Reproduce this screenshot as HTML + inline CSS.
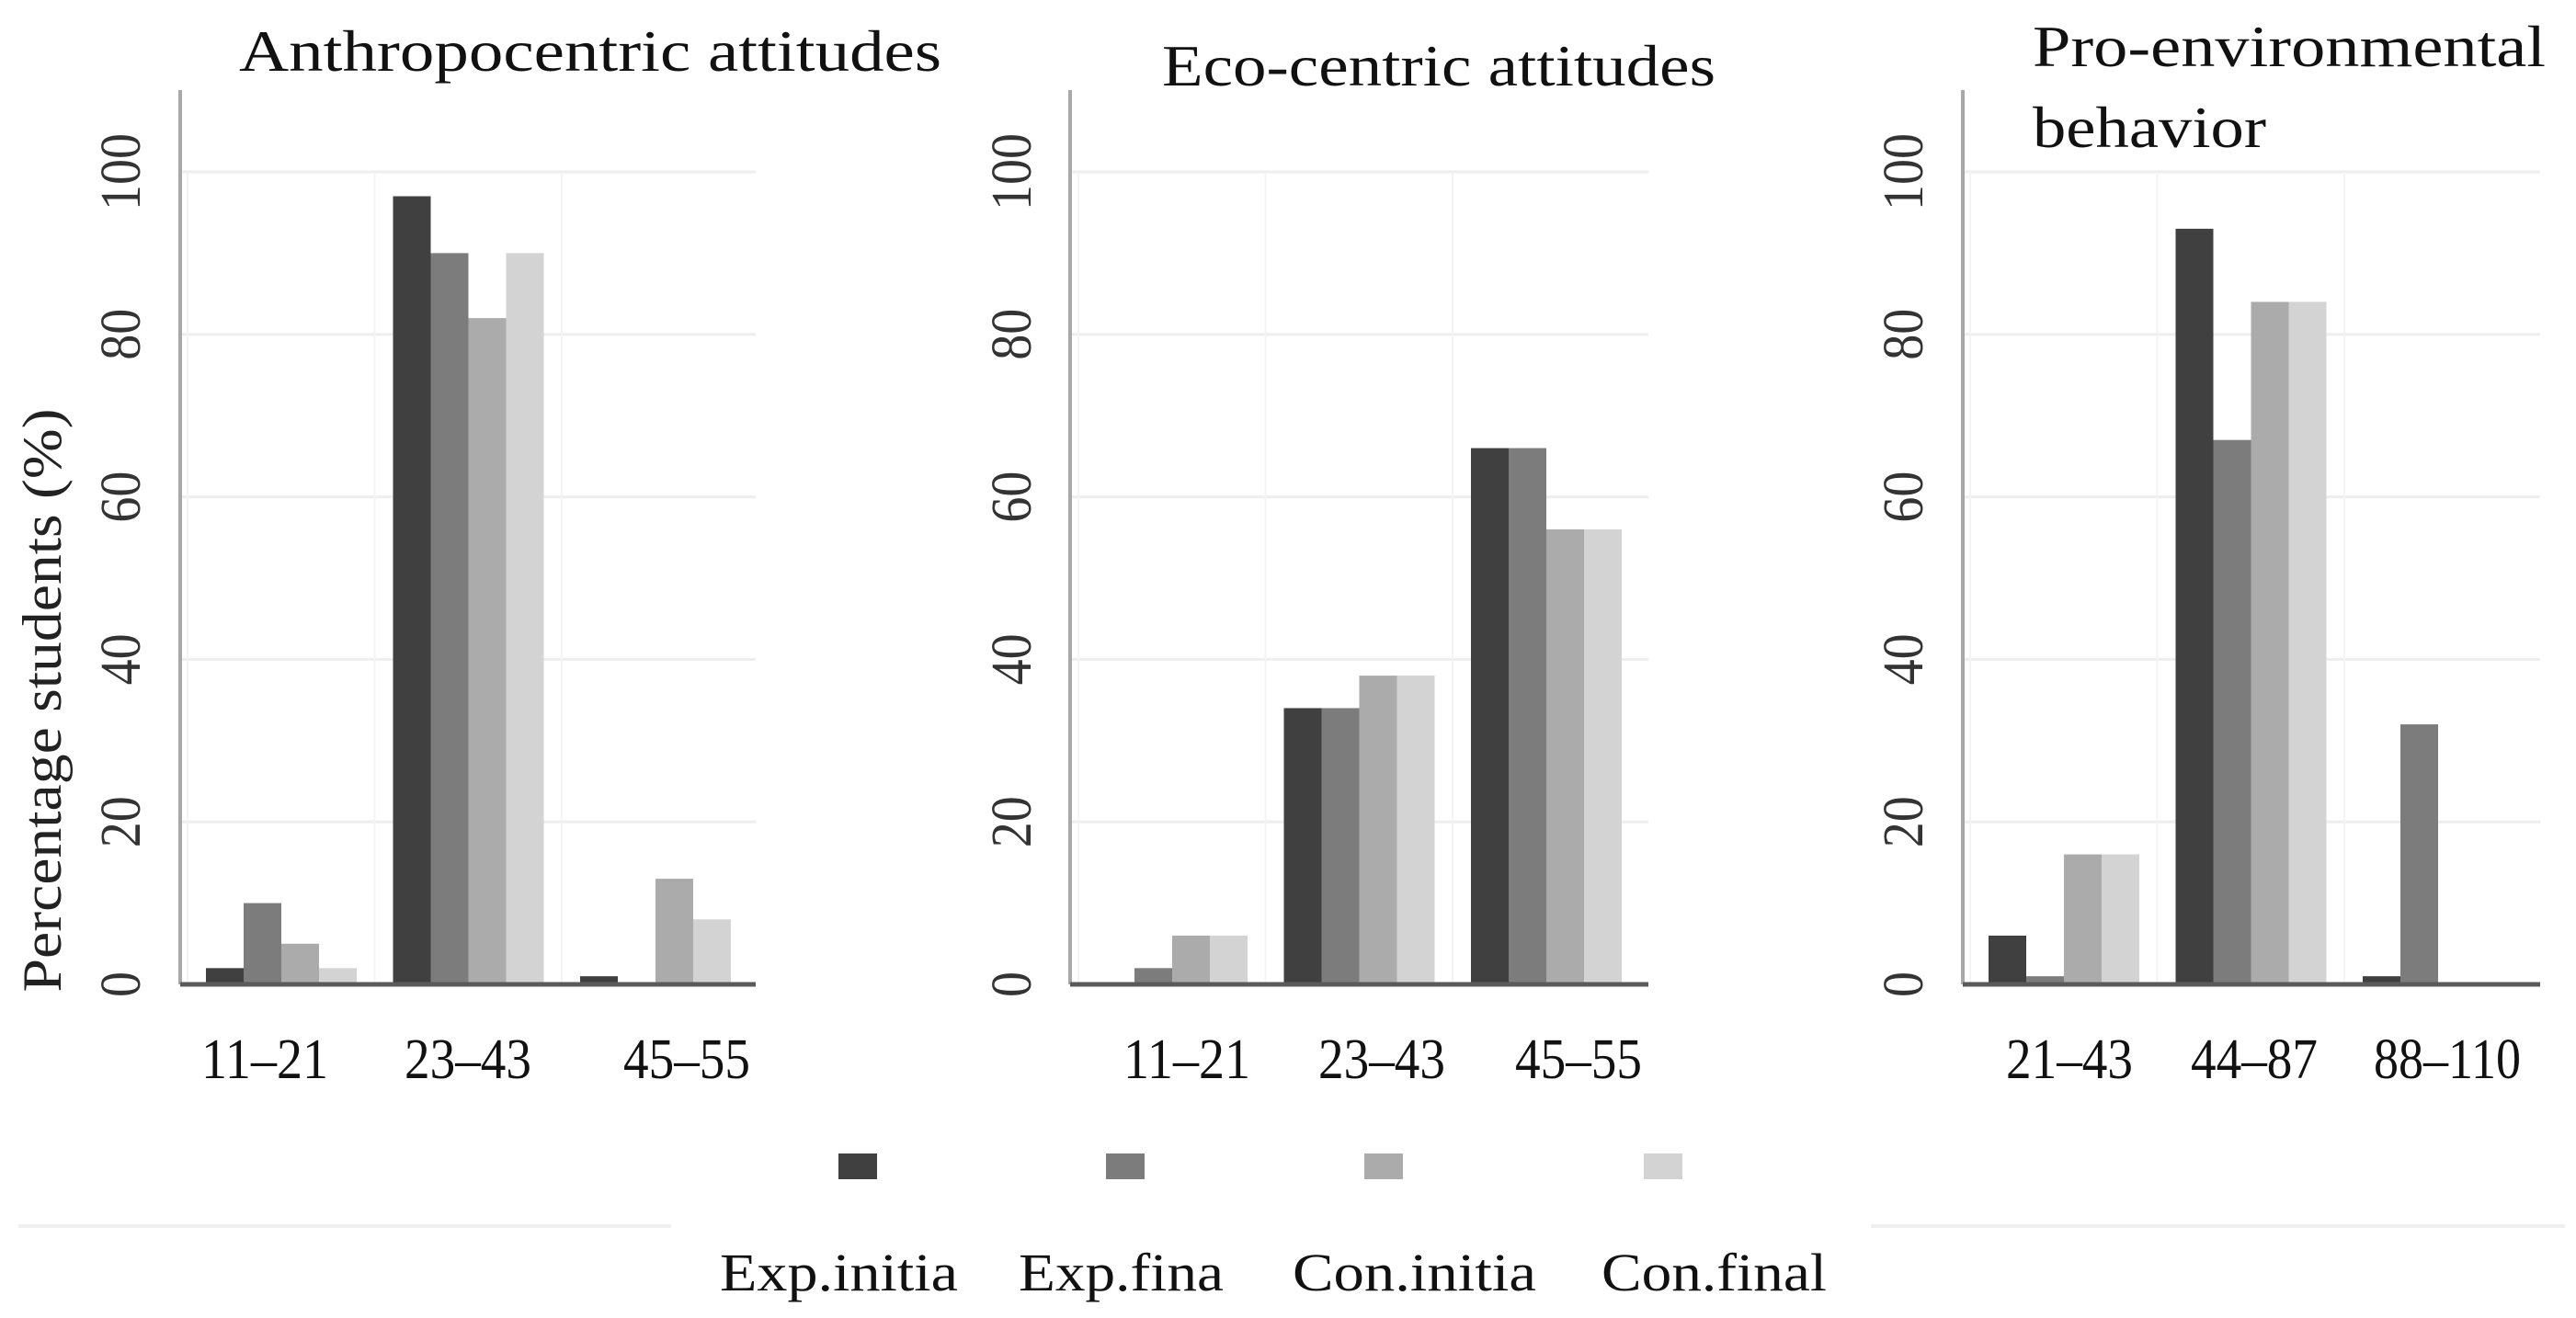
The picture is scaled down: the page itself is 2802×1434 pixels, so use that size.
<!DOCTYPE html>
<html><head><meta charset="utf-8"><style>
html,body{margin:0;padding:0;background:#fff;}
svg{display:block;font-family:"Liberation Serif",serif;}
</style></head><body>
<svg id="chart" width="2802" height="1434" viewBox="0 0 2802 1434" xmlns="http://www.w3.org/2000/svg">
<rect x="0" y="0" width="2802" height="1434" fill="#fff"/>
</svg>
<script>
const seriesNames = ["Exp.initia","Exp.fina","Con.initia","Con.final"];
const panelTitles = [["Anthropocentric attitudes"],["Eco-centric attitudes"],["Pro-environmental","behavior"]];
const categories1 = ["11\u201321","23\u201343","45\u201355"];
const categories2 = ["11\u201321","23\u201343","45\u201355"];
const categories3 = ["21\u201343","44\u201387","88\u2013110"];
const expInitial1 = [2, 97, 1];
const expFinal1 = [10, 90, 0];
const conInitial1 = [5, 82, 13];
const conFinal1 = [2, 90, 8];
const expInitial2 = [0, 34, 66];
const expFinal2 = [2, 34, 66];
const conInitial2 = [6, 38, 56];
const conFinal2 = [6, 38, 56];
const expInitial3 = [6, 93, 1];
const expFinal3 = [1, 67, 32];
const conInitial3 = [16, 84, 0];
const conFinal3 = [16, 84, 0];
const yTicks = [0, 20, 40, 60, 80, 100];

const NS = "http://www.w3.org/2000/svg";
const svg = document.getElementById("chart");
const colors = ["#404040","#7c7c7c","#ababab","#d3d3d3"];
function mk(tag, attrs, parent){
  const e = document.createElementNS(NS, tag);
  for (const k in attrs) e.setAttribute(k, attrs[k]);
  (parent||svg).appendChild(e);
  return e;
}
const baseY = 1071, topVal = 100, y100 = 187;
function yScale(v){ return baseY - (v/topVal)*(baseY - y100); }

const panels = [
  {axisX:196, right:822, g0:224, cats:categories1, series:[expInitial1,expFinal1,conInitial1,conFinal1], tickX:130,
   labelX:[288,509,747], titleX:[260], titleY:[77], titleW:[764]},
  {axisX:1164, right:1793, g0:1193, cats:categories2, series:[expInitial2,expFinal2,conInitial2,conFinal2], tickX:1099,
   labelX:[1291,1503,1717], titleX:[1264], titleY:[93], titleW:[602]},
  {axisX:2135, right:2763, g0:2163, cats:categories3, series:[expInitial3,expFinal3,conInitial3,conFinal3], tickX:2069,
   labelX:[2251,2452,2662], titleX:[2211,2211], titleY:[72,160], titleW:[558,254]}
];
const bandStep = 203.5, barW = 41;
function xScale(p, ci, si){ return p.g0 + ci*bandStep + si*barW; }

panels.forEach((p, pi) => {
  const g = mk("g", {});
  
  
  // gridlines
  yTicks.forEach(t => {
    if (t === 0) return;
    const l = mk("line", {x1:p.axisX, x2:p.right, y1:yScale(t), y2:yScale(t), stroke:"#eeeeee", "stroke-width":3}, g);
    
    
  });
  p.cats.forEach((c, ci) => {
    const vx = xScale(p, ci, 0) - 20;
    const l = mk("line", {x1:vx, x2:vx, y1:y100, y2:baseY, stroke:"#f4f4f4", "stroke-width":2}, g);
    
    
  });
  // bars
  p.series.forEach((arr, si) => {
    arr.forEach((v, ci) => {
      const r = mk("rect", {x:xScale(p, ci, si), y:yScale(v), width:barW, height:baseY - yScale(v), fill:colors[si]}, g);
      
      
    });
  });
  // axes
  const ya = mk("line", {x1:p.axisX, x2:p.axisX, y1:98, y2:baseY, stroke:"#a8a8a8", "stroke-width":4}, g);
  
  
  const xa = mk("line", {x1:p.axisX, x2:p.right, y1:baseY, y2:baseY, stroke:"#5a5a5a", "stroke-width":5}, g);
  
  
  // y tick labels
  yTicks.forEach(t => {
    const y = yScale(t);
    const w = String(t).length * 28;
    const tx = mk("text", {x:0, y:0, "font-size":62, fill:"#333", "text-anchor":"middle",
      transform:`translate(${p.tickX+22},${y}) rotate(-90)`, textLength:w, lengthAdjust:"spacingAndGlyphs"}, g);
    tx.textContent = t;
    
    
  });
  // category labels
  p.cats.forEach((c, ci) => {
    const tx = mk("text", {x:p.labelX[ci], y:1173, "font-size":62, fill:"#111", "text-anchor":"middle",
      textLength: c.length > 5 ? 160 : 138, lengthAdjust:"spacingAndGlyphs"}, g);
    tx.textContent = c;
    
    
  });
  // titles
  panelTitles[pi].forEach((t, li) => {
    const tx = mk("text", {x:p.titleX[li], y:p.titleY[li], "font-size":64, fill:"#111",
      textLength:p.titleW[li], lengthAdjust:"spacingAndGlyphs"}, g);
    tx.textContent = t;
    
    
  });
});

// y axis title
const yt = mk("text", {x:0, y:0, "font-size":60, fill:"#222", "text-anchor":"middle",
  transform:"translate(66,762) rotate(-90)", textLength:635, lengthAdjust:"spacingAndGlyphs"});
yt.textContent = "Percentage students (%)";



// faint artifacts
mk("line", {x1:20, x2:730, y1:1334, y2:1334, stroke:"#f0f0f0", "stroke-width":4});
mk("line", {x1:2035, x2:2790, y1:1334, y2:1334, stroke:"#f0f0f0", "stroke-width":4});

// legend
const swX = [912, 1203, 1484, 1788];
const txX = [783, 1108, 1406, 1742];
const txW = [259, 223, 265, 245];
seriesNames.forEach((n, i) => {
  const g = mk("g", {});
  
  
  const s = mk("rect", {x:swX[i], y:1255, width:42, height:28, fill:colors[i]}, g);
  
  
  const t = mk("text", {x:txX[i], y:1404, "font-size":58, fill:"#111", textLength:txW[i], lengthAdjust:"spacingAndGlyphs"}, g);
  t.textContent = n;
  
  
});
</script>
</body></html>
